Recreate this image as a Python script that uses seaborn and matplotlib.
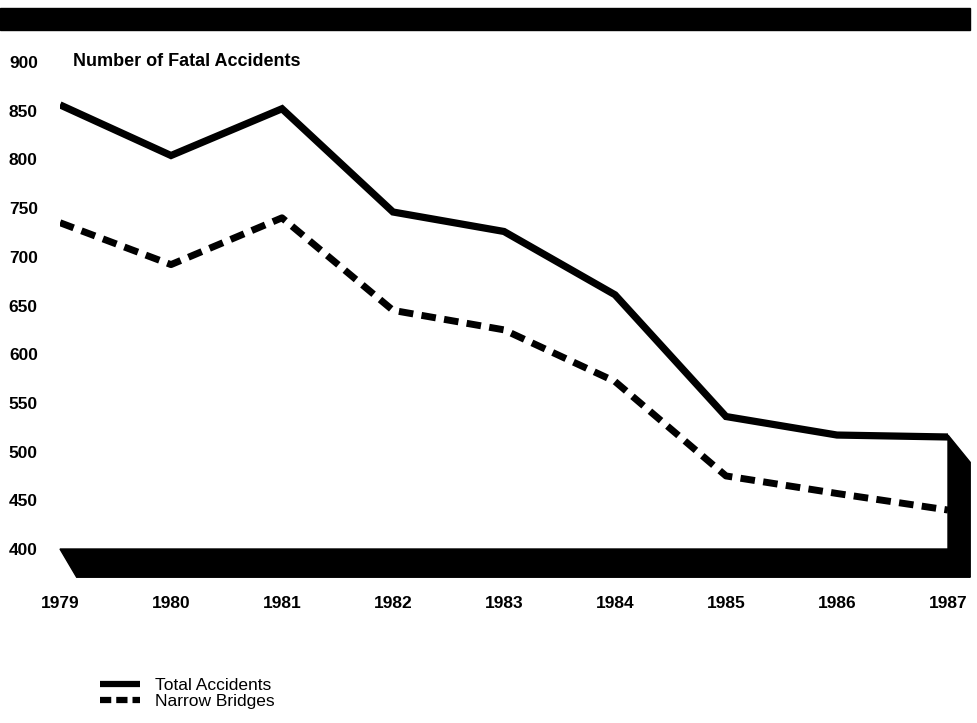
import matplotlib
matplotlib.use("Agg")
import matplotlib.pyplot as plt
from matplotlib.patches import Rectangle, Polygon
from matplotlib.lines import Line2D
import pandas as pd
import seaborn as sns

years = [1979, 1980, 1981, 1982, 1983, 1984, 1985, 1986, 1987]
total_accidents = [856, 804, 852, 746, 726, 661, 536, 517, 515]
narrow_bridges = [735, 692, 740, 645, 625, 572, 475, 457, 440]
y_ticks = [400, 450, 500, 550, 600, 650, 700, 750, 800, 850, 900]

df = pd.DataFrame({'year': years, 'Total Accidents': total_accidents,
                   'Narrow Bridges': narrow_bridges})

sns.set_style("white")
plt.rcParams['font.family'] = ['Liberation Sans', 'DejaVu Sans']
plt.rcParams['text.color'] = 'black'
plt.rcParams['xtick.color'] = 'black'
plt.rcParams['ytick.color'] = 'black'

fig = plt.figure(figsize=(9.78, 7.23), dpi=100)
ax = fig.add_axes([60/978, 1 - 549/723, 888/978, 487/723])

sns.lineplot(data=df, x='year', y='Total Accidents', ax=ax, color='black',
             lw=5.2, solid_joinstyle='miter', solid_capstyle='butt')
sns.lineplot(data=df, x='year', y='Narrow Bridges', ax=ax, color='black',
             lw=5, linestyle=(0, (2.1, 1.2)), dash_capstyle='butt')

ax.set_xlim(years[0], years[-1])
ax.set_ylim(400, 900)
ax.set_xticks(years)
ax.set_xticklabels([str(y) for y in years], fontweight='bold', fontsize=12.5)
ax.set_yticks(y_ticks)
ax.set_yticklabels([str(v) for v in y_ticks], fontweight='bold', fontsize=12.5)
ax.tick_params(axis='x', length=0, pad=34)
ax.tick_params(axis='y', length=0, pad=16)
ax.set_xlabel('')
ax.set_ylabel('')
for s in ax.spines.values():
    s.set_visible(False)

# 3D floor and right wall
floor = Polygon([(1979, 400), (1987, 400), (1987.2, 371), (1979.15, 371)],
                closed=True, color='black', clip_on=False, zorder=1)
wall = Polygon([(1987, 400), (1987, 517), (1987.2, 489), (1987.2, 371)],
               closed=True, color='black', clip_on=False, zorder=1)
ax.add_patch(floor)
ax.add_patch(wall)

ax.text(73/978, 1 - 62/723, 'Number of Fatal Accidents', transform=fig.transFigure,
        fontsize=13, fontweight='bold', va='center', ha='left')

# top black band
fig.add_artist(Rectangle((0, 1 - 30/723), 970/978, 22/723,
                         transform=fig.transFigure, color='black'))

# legend
handles = [Line2D([], [], color='black', lw=4.5, solid_capstyle='butt'),
           Line2D([], [], color='black', lw=4.5, linestyle=(0, (1.8, 0.8)),
                  dash_capstyle='butt')]
fig.legend(handles, ['Total Accidents', 'Narrow Bridges'], loc='upper left',
           bbox_to_anchor=(84/978, 1 - 662/723), frameon=False, fontsize=12.5,
           handlelength=2.3, handletextpad=0.9, labelspacing=0.05)

fig.savefig('out.png', dpi=100)
